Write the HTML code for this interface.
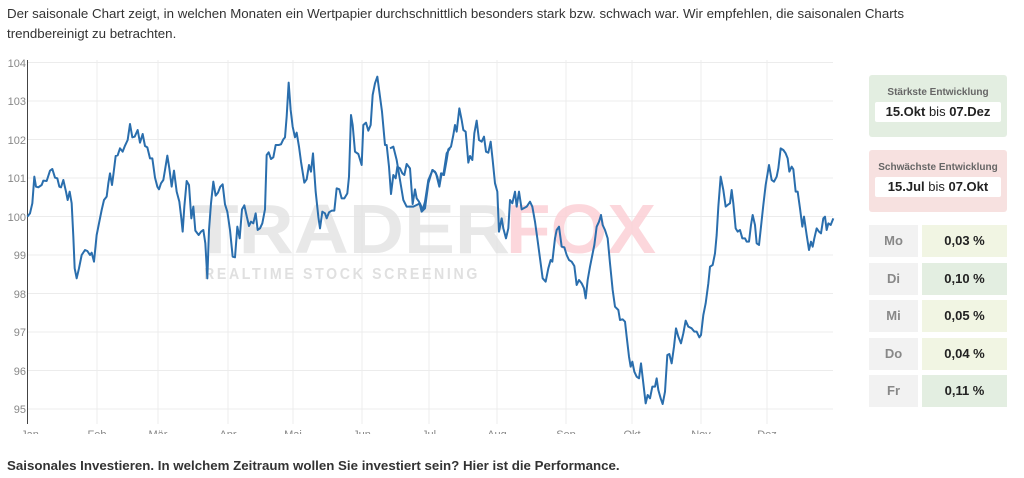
<!DOCTYPE html>
<html><head><meta charset="utf-8"><style>
body{margin:0;width:1024px;height:478px;background:#fff;font-family:"Liberation Sans","DejaVu Sans",sans-serif;position:relative;overflow:hidden;color:#333}
.t{position:absolute;left:7px;top:4px;font-size:13.3px;line-height:20px;width:960px}
.b{position:absolute;left:7px;top:458px;font-size:13.3px;font-weight:bold}
.box{position:absolute;left:869px;width:138px;height:62px;border-radius:3px;text-align:center}
.box .h{font-size:10px;color:#666;margin-top:12px;font-weight:bold}
.box .v{background:#fff;margin:4px 6px 0;height:20px;line-height:20px;font-size:13px;color:#222;border-radius:2px}
.l{position:absolute;left:869px;width:49px;height:32px;background:#f2f2f2;color:#888;font-weight:bold;font-size:13px;text-align:center;line-height:32px}
.r{position:absolute;left:922px;width:85px;height:32px;font-weight:bold;font-size:13px;text-align:center;line-height:32px;color:#222}
</style></head><body>
<div class="t">Der saisonale Chart zeigt, in welchen Monaten ein Wertpapier durchschnittlich besonders stark bzw. schwach war. Wir empfehlen, die saisonalen Charts trendbereinigt zu betrachten.</div>
<svg width="860" height="434" style="position:absolute;left:0;top:0">
<g stroke="#ececec" stroke-width="1">
<line x1="27" x2="833" y1="62.5" y2="62.5"/><line x1="27" x2="833" y1="101" y2="101"/><line x1="27" x2="833" y1="139.5" y2="139.5"/><line x1="27" x2="833" y1="178" y2="178"/><line x1="27" x2="833" y1="216.5" y2="216.5"/><line x1="27" x2="833" y1="255" y2="255"/><line x1="27" x2="833" y1="293.5" y2="293.5"/><line x1="27" x2="833" y1="332" y2="332"/><line x1="27" x2="833" y1="370.5" y2="370.5"/><line x1="27" x2="833" y1="409" y2="409"/>
<line x1="97" x2="97" y1="60" y2="424"/><line x1="158" x2="158" y1="60" y2="424"/><line x1="228" x2="228" y1="60" y2="424"/><line x1="293" x2="293" y1="60" y2="424"/><line x1="362" x2="362" y1="60" y2="424"/><line x1="429" x2="429" y1="60" y2="424"/><line x1="497" x2="497" y1="60" y2="424"/><line x1="566" x2="566" y1="60" y2="424"/><line x1="632" x2="632" y1="60" y2="424"/><line x1="701" x2="701" y1="60" y2="424"/><line x1="767" x2="767" y1="60" y2="424"/>
</g>
<line x1="27.5" x2="27.5" y1="60" y2="424" stroke="#444"/>
<g font-size="11" fill="#888" text-anchor="end">
<text x="26" y="67">104</text><text x="26" y="105">103</text><text x="26" y="144">102</text><text x="26" y="182">101</text><text x="26" y="221">100</text><text x="26" y="259">99</text><text x="26" y="298">98</text><text x="26" y="336">97</text><text x="26" y="375">96</text><text x="26" y="413">95</text>
</g>
<g font-size="11" fill="#888" text-anchor="middle">
<text x="30" y="438">Jan</text><text x="97" y="438">Feb</text><text x="158" y="438">Mär</text><text x="228" y="438">Apr</text><text x="293" y="438">Mai</text><text x="362" y="438">Jun</text><text x="429" y="438">Jul</text><text x="497" y="438">Aug</text><text x="566" y="438">Sep</text><text x="632" y="438">Okt</text><text x="701" y="438">Nov</text><text x="767" y="438">Dez</text>
</g>
<text x="192" y="253" font-size="70" font-weight="bold" fill="#e4e4e4" fill-opacity="0.85" textLength="318" lengthAdjust="spacingAndGlyphs">TRADER</text>
<text x="506" y="253" font-size="70" font-weight="bold" fill="#fbd0d6" fill-opacity="0.85" textLength="150" lengthAdjust="spacingAndGlyphs">FOX</text>
<text x="204" y="279" font-size="16" font-weight="bold" fill="#e0e0e0" textLength="276" lengthAdjust="spacingAndGlyphs" letter-spacing="3">REALTIME STOCK SCREENING</text>
<g transform="translate(0,50) scale(0.33333)">
<polyline fill="none" stroke="#2a6ead" stroke-width="2" vector-effect="non-scaling-stroke" stroke-linejoin="round" points="82,500 90,490 97,460 103,380 108,410 115,412 125,405 130,392 140,393 150,362 157,357 165,383 172,385 178,410 183,412 190,390 198,425 203,450 209,425 215,460 220,560 224,655 230,685 237,655 245,615 255,600 262,603 270,615 275,608 282,635 290,555 297,520 305,480 312,450 320,440 325,400 330,370 336,405 340,375 347,318 353,316 360,295 368,305 375,287 383,270 390,222 397,262 404,260 413,240 420,278 428,252 435,288 442,292 450,325 457,325 465,383 472,410 477,418 483,400 490,390 495,360 502,317 508,355 515,410 522,362 530,425 538,455 544,505 548,545 553,470 560,393 567,405 574,505 580,470 586,542 596,555 603,545 610,540 616,580 622,685 627,540 633,460 640,395 647,437 654,428 661,410 668,403 675,463 682,485 690,540 698,620 705,622 712,530 719,565 726,478 733,466 740,498 747,528 753,515 760,520 767,490 773,540 780,535 787,520 795,478 800,315 806,307 813,327 820,322 827,285 836,285 843,283 850,268 855,262 860,200 866,98 872,180 878,230 885,262 890,248 897,290 903,335 913,398 920,388 927,345 933,365 939,310 947,425 955,500 960,535 967,485 975,490 980,505 987,487 995,482 1003,482 1010,415 1018,418 1025,445 1033,445 1042,430 1047,380 1053,195 1058,225 1065,305 1075,312 1085,345 1090,225 1098,218 1105,242 1112,225 1118,135 1125,100 1132,80 1140,140 1146,185 1155,285 1160,285 1167,350 1173,432 1180,375 1187,385 1192,350 1200,355 1207,370 1213,375 1220,342 1230,355 1238,462 1245,418 1250,445 1257,455 1265,485 1275,475 1285,400 1297,360 1305,365 1312,380 1318,408 1323,370 1330,375 1340,310 1350,295"/>
</g>
<g transform="translate(420,50) scale(0.33333)">
<polyline fill="none" stroke="#2a6ead" stroke-width="2" vector-effect="non-scaling-stroke" stroke-linejoin="round" points="-90,295 -80,290 -70,330 -60,390 -50,450 -40,470 -30,470 -20,470 -10,465 0,460 8,480 15,455 25,390 38,360 48,370 58,410 65,370 72,375 80,330 85,298 93,290 100,255 105,225 110,245 118,175 125,210 130,240 137,245 145,338 150,318 157,330 163,250 170,212 177,270 185,275 192,260 198,305 205,308 212,275 218,330 225,400 232,425 237,545 245,505 250,535 258,565 265,535 270,450 277,460 285,425 290,470 297,425 305,478 320,470 330,455 337,470 345,515 352,565 360,625 368,685 377,695 385,655 392,630 397,635 405,565 410,540 417,530 425,590 433,592 440,615 447,630 455,635 463,648 470,705 477,690 485,700 492,715 497,745 503,690 510,650 517,615 523,585 530,530 537,515 543,495 548,525 555,540 563,565 570,640 578,720 585,770 595,780 600,810 608,808 615,815 620,860 627,920 632,950 637,935 643,965 650,980 657,985 663,940 670,1000 677,1060 683,1035 690,1045 697,1010 705,1010 710,985 715,1020 722,1045 728,1062 735,1025 742,915 748,912 755,940 762,890 768,835 775,860 783,880 790,850 797,812 805,830 815,835 823,845 830,845 838,862 843,855 850,795 857,760 865,700 870,650 878,645 885,610 890,555 895,470 902,380 910,420 917,470 923,465 930,460 935,420 940,460 947,535 953,545 960,540 967,565 975,565 980,575 987,575 993,525 998,495 1005,525 1010,580 1017,585 1023,530 1030,465 1037,405 1047,345 1055,390 1062,395 1070,380 1075,355 1082,295 1090,300 1097,310 1103,325 1108,365 1115,350 1120,358 1127,425 1133,425 1140,475 1147,530 1152,500 1160,555 1167,600 1173,575 1178,590 1183,565 1190,535 1197,545 1203,550 1210,505 1215,500 1220,540 1225,520 1232,525 1240,505"/>
</g>
</svg>
<div class="box" style="top:75px;background:#e3eee1"><div class="h">Stärkste Entwicklung</div><div class="v"><b>15.Okt</b> bis <b>07.Dez</b></div></div>
<div class="box" style="top:150px;background:#f7e1e0"><div class="h">Schwächste Entwicklung</div><div class="v"><b>15.Jul</b> bis <b>07.Okt</b></div></div>
<div class="l" style="top:225px">Mo</div><div class="r" style="top:225px;background:#f1f5e3">0,03 %</div>
<div class="l" style="top:263px">Di</div><div class="r" style="top:263px;background:#e3eee1">0,10 %</div>
<div class="l" style="top:300px">Mi</div><div class="r" style="top:300px;background:#f1f5e3">0,05 %</div>
<div class="l" style="top:338px">Do</div><div class="r" style="top:338px;background:#f1f5e3">0,04 %</div>
<div class="l" style="top:375px">Fr</div><div class="r" style="top:375px;background:#e3eee1">0,11 %</div>
<div class="b">Saisonales Investieren. In welchem Zeitraum wollen Sie investiert sein? Hier ist die Performance.</div>
</body></html>
